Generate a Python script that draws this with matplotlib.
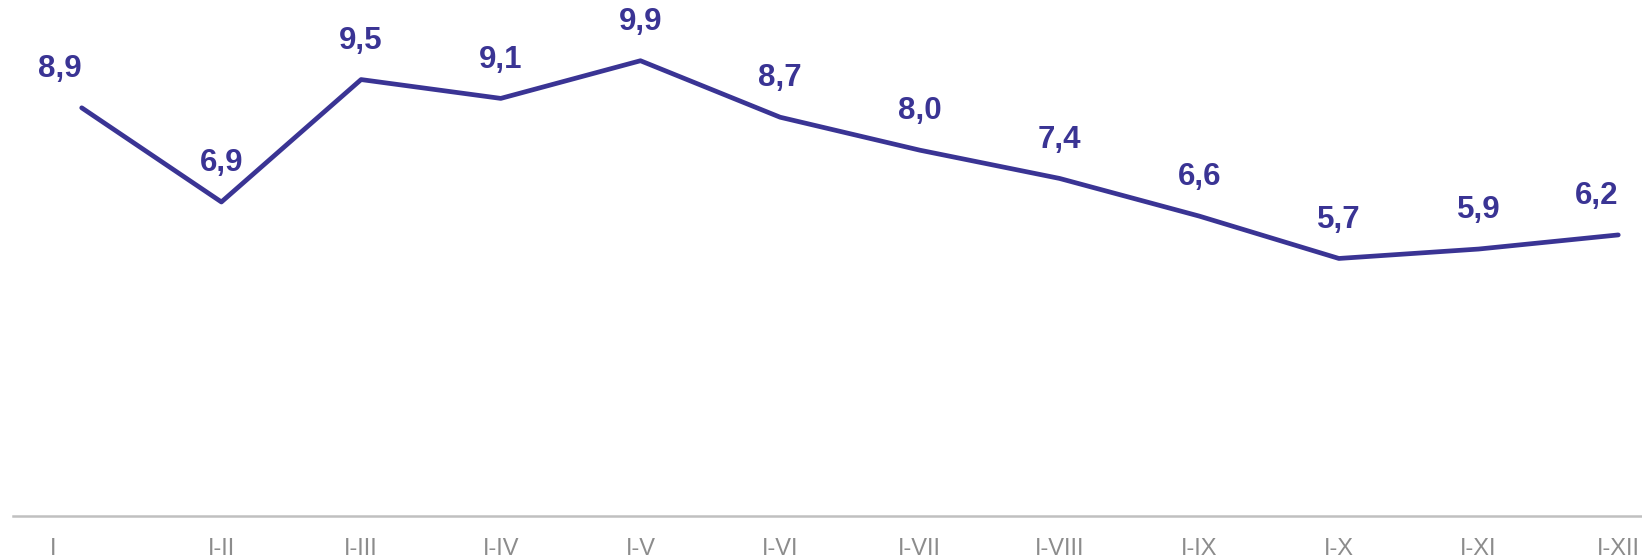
import matplotlib
matplotlib.use("Agg")
import matplotlib.pyplot as plt
import matplotlib.transforms as mtransforms

# cumulative periods and values
periods = ["I", "I-II", "I-III", "I-IV", "I-V", "I-VI", "I-VII", "I-VIII", "I-IX", "I-X", "I-XI", "I-XII"]
values = [8.9, 6.9, 9.5, 9.1, 9.9, 8.7, 8.0, 7.4, 6.6, 5.7, 5.9, 6.2]

LINE_COLOR = "#3a3494"
plt.rcParams['font.family'] = ['Liberation Sans', 'DejaVu Sans']

fig = plt.figure(figsize=(16.42, 5.6), dpi=100)
ax = fig.add_axes([0, 0.0786, 1, 0.9214])

x = list(range(len(periods)))
ax.plot(x, values, color=LINE_COLOR, linewidth=3.4, solid_capstyle='round')

for i, v in enumerate(values):
    ha = 'center'
    if i == 0 or i == len(values) - 1:
        ha = 'right'
    ax.annotate(f"{v:.1f}".replace(".", ","), (i, v), xytext=(0, 28), textcoords='offset points',
                ha=ha, va='center', fontsize=22.5, fontweight='bold', color=LINE_COLOR)

ax.set_xlim(-0.585, 11.17)
ax.set_ylim(0.23, 11.19)
ax.set_xticks(x)
ax.set_xticklabels(periods, fontsize=17, color="#8c8c8c")
ax.tick_params(axis='x', length=0, pad=16)
ax.set_yticks([])
for side in ['top', 'right', 'left']:
    ax.spines[side].set_visible(False)
ax.spines['bottom'].set_color("#c0c0c0")
ax.spines['bottom'].set_linewidth(1.8)
ax.spines['bottom'].set_bounds(-0.495, 11.17)

# first label sits left of its point
offset = mtransforms.ScaledTranslation(-0.29, 0, fig.dpi_scale_trans)
first = ax.get_xticklabels()[0]
first.set_transform(first.get_transform() + offset)

fig.savefig("out.png", dpi=100)
